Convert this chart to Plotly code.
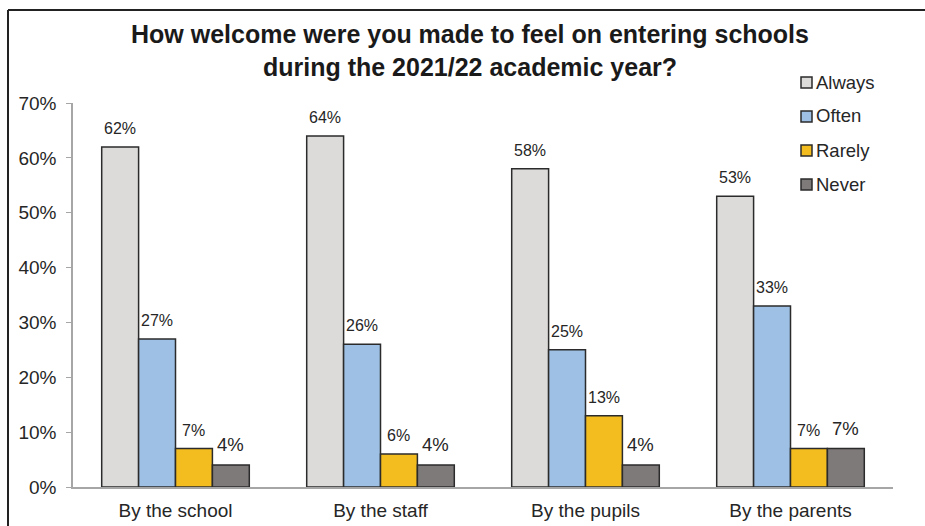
import plotly.graph_objects as go

categories = ["By the school", "By the staff", "By the pupils", "By the parents"]
series_names = ["Always", "Often", "Rarely", "Never"]
always = [62, 64, 58, 53]
often = [27, 26, 25, 33]
rarely = [7, 6, 13, 7]
never = [4, 4, 4, 7]
colors = ["#DCDBDA", "#9DC0E4", "#F4BD1F", "#7E7A79"]
label_sizes = [16, 16, 16, 18.5]

FONT = "Liberation Sans, Arial"
L, R, T, B = 73, 32, 103, 39
W, H = 925, 526
pw, ph = W - L - R, H - T - B
def px(x): return (x - L) / pw
def py(y): return (H - B - y) / ph

BARGAP = 0.28
cat_px = pw / len(categories)
bar_px = cat_px * (1 - BARGAP) / len(series_names)

fig = go.Figure()
annotations = []
for i, (name, vals, col, ls) in enumerate(zip(series_names, [always, often, rarely, never], colors, label_sizes)):
    fig.add_trace(go.Bar(
        name=name, x=categories, y=vals,
        marker=dict(color=col, line=dict(color="#2b2b2b", width=1.5)),
        showlegend=False, hoverinfo="x+y",
    ))
    off = (i - (len(series_names) - 1) / 2) * bar_px
    for c, v in zip(categories, vals):
        annotations.append(dict(x=c, y=v, xref="x", yref="y", xshift=off, yshift=8,
                                xanchor="center", yanchor="bottom", showarrow=False,
                                text=f"{v}%", font=dict(size=ls, color="#262626", family=FONT)))

shapes = [
    dict(type="line", xref="paper", yref="paper", x0=px(8), x1=px(8), y0=py(10), y1=py(540),
         line=dict(color="#222", width=2)),
    dict(type="line", xref="paper", yref="paper", x0=px(8), x1=px(940), y0=py(10), y1=py(10),
         line=dict(color="#222", width=2)),
]
legend_y = [82, 116, 150, 184]
for name, col, ly in zip(series_names, colors, legend_y):
    shapes.append(dict(type="rect", xref="paper", yref="paper",
                       x0=px(801), x1=px(812), y0=py(ly + 6), y1=py(ly - 5),
                       fillcolor=col, line=dict(color="#2b2b2b", width=1.5)))
    annotations.append(dict(xref="paper", yref="paper", x=px(814), y=py(ly),
                            xanchor="left", yanchor="middle", showarrow=False,
                            text=name, font=dict(size=18.5, color="#262626", family=FONT)))

fig.update_layout(
    width=W, height=H,
    margin=dict(l=L, r=R, t=T, b=B, autoexpand=False),
    paper_bgcolor="white", plot_bgcolor="white",
    font=dict(family=FONT, color="#262626"),
    barmode="group", bargap=BARGAP, bargroupgap=0,
    title=dict(text="<b>How welcome were you made to feel on entering schools<br>during the 2021/22 academic year?</b>",
               x=470 / W, xanchor="center", y=1 - 43 / H, yanchor="middle",
               font=dict(size=25, color="#1a1a1a")),
    showlegend=False,
    xaxis=dict(showline=True, linecolor="#A6A6A6", linewidth=1.5, ticks="",
               tickfont=dict(size=19, color="#262626"), showgrid=False,
               ticklabelstandoff=5, automargin=False),
    yaxis=dict(range=[0, 70], dtick=10, ticksuffix="%", showline=True,
               linecolor="#A6A6A6", linewidth=1.5, ticks="outside", ticklen=5,
               tickcolor="#A6A6A6", tickfont=dict(size=19, color="#262626"),
               showgrid=False, zeroline=False, ticklabelstandoff=6, automargin=False),
    shapes=shapes,
    annotations=annotations,
)
fig.write_html("out.html", config={"displayModeBar": False},
               post_script="document.body.style.margin='0';")
